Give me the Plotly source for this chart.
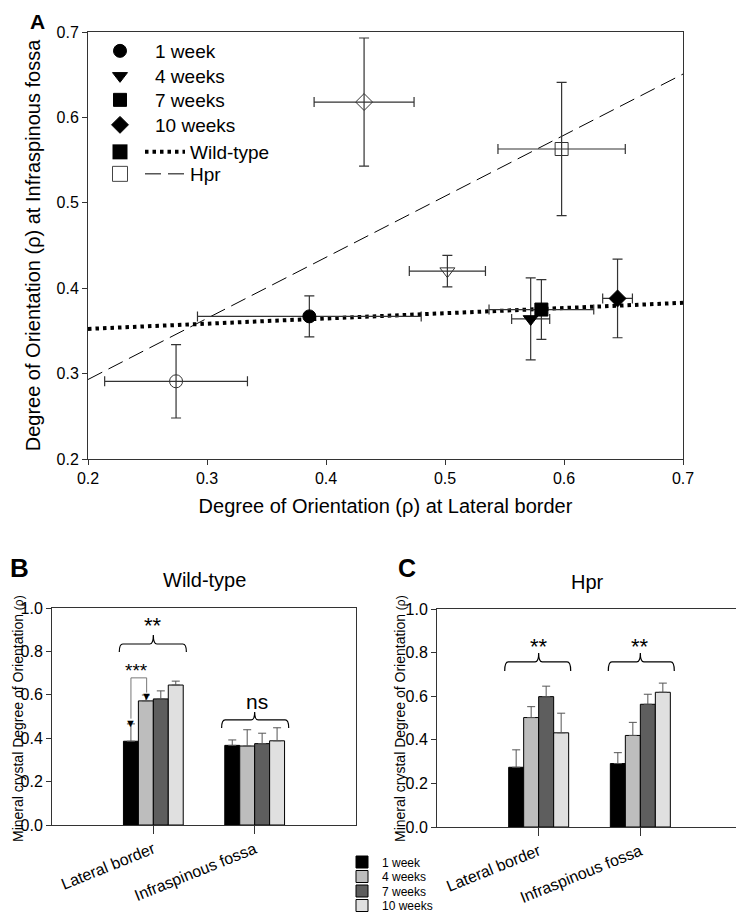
import numpy as np
import plotly.graph_objects as go

# ---------------- data ----------------
weeks = ["1 week", "4 weeks", "7 weeks", "10 weeks"]
sites = ["Lateral border", "Infraspinous fossa"]

# Panel A: mean degree of orientation (rho) with error
wt_lateral = [0.386, 0.572, 0.581, 0.645]
wt_lateral_err = [0.094, 0.016, 0.044, 0.0125]
wt_infra = [0.367, 0.364, 0.375, 0.388]
wt_infra_err = [0.024, 0.048, 0.035, 0.046]

hpr_lateral = [0.274, 0.502, 0.598, 0.432]
hpr_lateral_err = [0.060, 0.032, 0.0535, 0.042]
hpr_infra = [0.291, 0.420, 0.563, 0.618]
hpr_infra_err = [0.043, 0.0185, 0.078, 0.075]

# Panels B / C: one-sided error bars of the bar charts
wt_lateral_bar_err = [0.080, 0.027, 0.037, 0.018]
wt_infra_bar_err = [0.025, 0.075, 0.048, 0.060]
hpr_lateral_bar_err = [0.080, 0.050, 0.048, 0.090]
hpr_infra_bar_err = [0.050, 0.060, 0.046, 0.042]

axis_range = [0.2, 0.7]

# ---------------- styling ----------------
OFF = 8                      # page body margin
W, H = 744 - OFF, 914 - OFF
FONT = "Liberation Sans, Arial, sans-serif"
AX = "#333333"
symbols = ["circle", "triangle-down", "square", "diamond"]
bar_colors = ["#000000", "#bdbdbd", "#5e5e5e", "#e0e0e0"]


def px(x):
    return (x - OFF) / W


def py(y):
    return 1 - (y - OFF) / H


fig = go.Figure()

# regression lines (Panel A)
xfit = np.array(axis_range)
wt_fit = np.polyfit(wt_lateral, wt_infra, 1)
hpr_fit = np.polyfit(hpr_lateral, hpr_infra, 1)
fig.add_trace(go.Scatter(
    x=xfit, y=np.polyval(wt_fit, xfit), mode="lines", name="Wild-type",
    line=dict(color="black", width=4, dash="3.5px,4px"),
    legend="legend7", xaxis="x", yaxis="y"))
fig.add_trace(go.Scatter(
    x=xfit, y=np.polyval(hpr_fit, xfit), mode="lines", name="Hpr",
    line=dict(color="black", width=1, dash="16px,7px"),
    legend="legend8", xaxis="x", yaxis="y"))

# points per week (filled = wild-type, open = Hpr)
leg_names = ["legend", "legend2", "legend3", "legend4"]
for i, wk in enumerate(weeks):
    fig.add_trace(go.Scatter(
        x=[wt_lateral[i], hpr_lateral[i]],
        y=[wt_infra[i], hpr_infra[i]],
        mode="markers", name=wk, legend=leg_names[i],
        marker=dict(symbol=[symbols[i], symbols[i] + "-open"],
                    color=["black", "#333333"], size=13,
                    line=dict(color=["black", "#333333"], width=1)),
        error_x=dict(type="data", array=[wt_lateral_err[i], hpr_lateral_err[i]],
                     color="#333333", thickness=1.2, width=5),
        error_y=dict(type="data", array=[wt_infra_err[i], hpr_infra_err[i]],
                     color="#333333", thickness=1.2, width=5),
        xaxis="x", yaxis="y"))

# legend-only group markers
fig.add_trace(go.Scatter(x=[None], y=[None], mode="markers", name="",
                         marker=dict(symbol="square", size=15, color="black"),
                         legend="legend5", xaxis="x", yaxis="y"))
fig.add_trace(go.Scatter(x=[None], y=[None], mode="markers", name="",
                         marker=dict(symbol="square-open", size=15, color="#444444",
                                     line=dict(width=1)),
                         legend="legend6", xaxis="x", yaxis="y"))

# bar charts B (wild-type) and C (Hpr)
xpos = list(range(len(sites)))
bar_legends = ["legend9", "legend10", "legend11", "legend12"]
for i, wk in enumerate(weeks):
    fig.add_trace(go.Bar(
        x=xpos, y=[wt_lateral[i], wt_infra[i]], name=wk,
        marker=dict(color=bar_colors[i], line=dict(color="black", width=1)),
        error_y=dict(type="data", array=[wt_lateral_bar_err[i], wt_infra_bar_err[i]],
                     arrayminus=[0, 0], symmetric=False, color="#555555",
                     thickness=1, width=4),
        legend=bar_legends[i], xaxis="x2", yaxis="y2"))
    fig.add_trace(go.Bar(
        x=xpos, y=[hpr_lateral[i], hpr_infra[i]], name=wk, showlegend=False,
        marker=dict(color=bar_colors[i], line=dict(color="black", width=1)),
        error_y=dict(type="data", array=[hpr_lateral_bar_err[i], hpr_infra_bar_err[i]],
                     arrayminus=[0, 0], symmetric=False, color="#555555",
                     thickness=1, width=4),
        xaxis="x3", yaxis="y3"))

rho_small = "<span style='font-size:12px'>(ρ)</span>"
bar_ytitle = "Mineral crystal Degree of Orientation " + rho_small

axis_common = dict(showline=True, mirror=True, linecolor=AX, linewidth=1,
                   ticks="outside", tickcolor=AX, ticklen=5, showgrid=False,
                   zeroline=False, tickfont=dict(size=16, color="black"))

layout = dict(
    width=W, height=H, margin=dict(l=0, r=0, t=0, b=0, autoexpand=False),
    paper_bgcolor="white", plot_bgcolor="white",
    font=dict(family=FONT, color="black"),
    barmode="group", bargap=0.41, bargroupgap=0,
    xaxis=dict(axis_common, domain=[px(88), px(683)], range=axis_range,
               tick0=0.2, dtick=0.1, tickformat=".1f", anchor="y",
               title=dict(text="Degree of Orientation (ρ) at Lateral border",
                          font=dict(size=20), standoff=12)),
    yaxis=dict(axis_common, domain=[py(459), py(32)], range=axis_range,
               tick0=0.2, dtick=0.1, tickformat=".1f", anchor="x",
               title=dict(text="Degree of Orientation (ρ) at Infraspinous fossa",
                          font=dict(size=20), standoff=10)),
    xaxis2=dict(axis_common, domain=[px(52), px(356)], range=[-1, 2],
                tickvals=xpos, ticktext=sites, tickangle=-22, ticklen=8,
                tickfont=dict(size=16), anchor="y2"),
    yaxis2=dict(axis_common, domain=[py(825), py(608)], range=[0, 1], dtick=0.2,
                tickformat=".1f", anchor="x2"),
    xaxis3=dict(axis_common, domain=[px(437), px(742)], range=[-1, 2],
                tickvals=xpos, ticktext=sites, tickangle=-22, ticklen=8,
                tickfont=dict(size=16), anchor="y3"),
    yaxis3=dict(axis_common, domain=[py(827), py(609)], range=[0, 1], dtick=0.2,
                tickformat=".1f", anchor="x3"),
)

# legends
leg_base = dict(bgcolor="rgba(0,0,0,0)", xanchor="left", yanchor="middle",
                font=dict(size=19, color="black"), tracegroupgap=0)
week_rows = [51, 76, 100, 125]
for name, row in zip(leg_names, week_rows):
    layout[name] = dict(leg_base, x=px(85), y=py(row), itemwidth=60)
layout["legend5"] = dict(leg_base, x=px(100), y=py(152))
layout["legend6"] = dict(leg_base, x=px(100), y=py(174))
layout["legend7"] = dict(leg_base, x=px(140), y=py(152), itemwidth=40)
layout["legend8"] = dict(leg_base, x=px(140), y=py(174), itemwidth=40)
bar_rows = [862, 876.5, 891, 905.5]
for name, row in zip(bar_legends, bar_rows):
    layout[name] = dict(leg_base, x=px(342), y=py(row), font=dict(size=12, color="black"))

fig.update_layout(**layout)

# panel labels and titles
def paper_text(text, x, y, size, bold=False, angle=0, yanchor="middle"):
    fig.add_annotation(text=("<b>%s</b>" % text) if bold else text,
                       x=px(x), y=py(y), xref="paper", yref="paper",
                       showarrow=False, xanchor="center", yanchor=yanchor,
                       textangle=angle, font=dict(size=size, color="black"))

paper_text("A", 37, OFF, 21, True, yanchor="top")
paper_text("B", 19, 568, 26, True)
paper_text("C", 407, 568, 25, True)
paper_text("Wild-type", 204, 580, 20)
paper_text("Hpr", 587, 582, 20)
paper_text(bar_ytitle, 18, 719, 14, angle=-90)
paper_text(bar_ytitle, 400, 719, 14, angle=-90)


def bracket(xc, xl, xr, y_line, y_end, y_peak, xref, yref):
    d = 0.035
    path = (f"M{xc + xl},{y_end} Q{xc + xl},{y_line} {xc + xl + d},{y_line} "
            f"L{xc - d},{y_line} Q{xc},{y_line} {xc},{y_peak} "
            f"Q{xc},{y_line} {xc + d},{y_line} L{xc + xr - d},{y_line} "
            f"Q{xc + xr},{y_line} {xc + xr},{y_end}")
    fig.add_shape(type="path", path=path, xref=xref, yref=yref,
                  line=dict(color="black", width=1.2))


def data_text(text, x, y, size, xref, yref, color="black"):
    fig.add_annotation(text=text, x=x, y=y, xref=xref, yref=yref, showarrow=False,
                       xanchor="center", yanchor="middle",
                       font=dict(size=size, color=color))

# Panel B significance marks
bracket(0, -0.336, 0.326, 0.834, 0.797, 0.876, "x2", "y2")
data_text("**", 0, 0.92, 22, "x2", "y2")
bracket(1, -0.326, 0.336, 0.484, 0.447, 0.521, "x2", "y2")
data_text("ns", 1.02, 0.567, 21, "x2", "y2")
fig.add_shape(type="path", path="M-0.221,0.49 L-0.221,0.678 L-0.066,0.678 L-0.066,0.61",
              xref="x2", yref="y2", line=dict(color="#777777", width=1))
data_text("***", -0.17, 0.714, 19, "x2", "y2")
data_text("▼", -0.221, 0.472, 11, "x2", "y2")
data_text("▼", -0.066, 0.594, 11, "x2", "y2")

# Panel C significance marks
bracket(0, -0.334, 0.315, 0.757, 0.716, 0.798, "x3", "y3")
data_text("**", 0, 0.83, 22, "x3", "y3")
bracket(1, -0.315, 0.334, 0.757, 0.716, 0.798, "x3", "y3")
data_text("**", 1, 0.83, 22, "x3", "y3")

fig.write_html("out.html")
